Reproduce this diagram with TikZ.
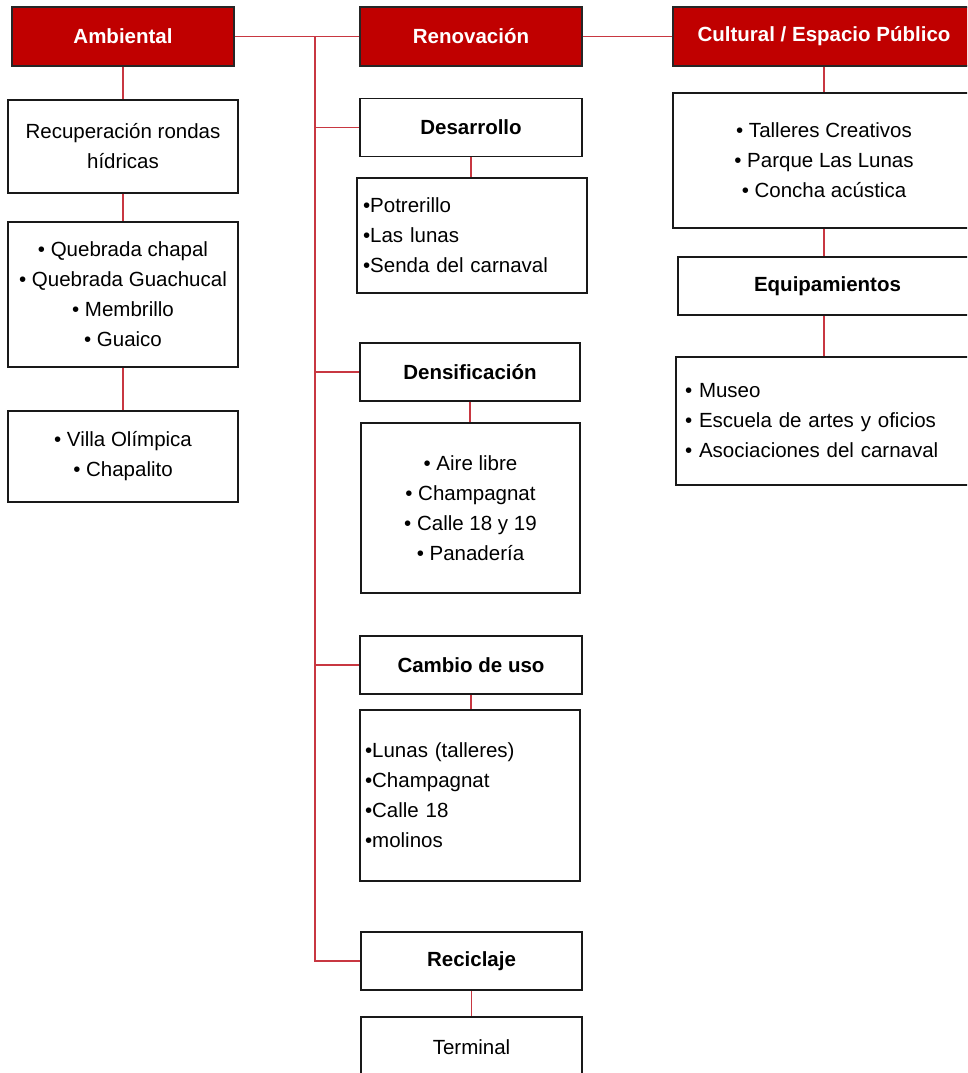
\documentclass[tikz,border=0pt]{standalone}
\usepackage{fontspec}
\setmainfont{Liberation Sans}
\definecolor{rojo}{RGB}{192,0,0}
\definecolor{linea}{RGB}{200,55,65}
\tikzset{
  cab/.style={draw=black!85, line width=1.5pt, fill=rojo, text=white,
    font=\bfseries\fontsize{20.5}{24}\selectfont, minimum height=59, inner sep=0},
  caja/.style={draw=black!90, line width=1.8pt, fill=white,
    font=\fontsize{20.5}{30}\selectfont, align=center, inner sep=0},
  titulo/.style={caja, font=\bfseries\fontsize{20.5}{24}\selectfont, minimum height=58},
  lista/.style={caja, align=left},
  enlace/.style={draw=linea, line width=1.5pt}
}
\begin{document}
\begin{tikzpicture}[x=1pt,y=-1pt]
  \clip (0,0) rectangle (967,1073);
  \fill[white] (0,0) rectangle (967,1073);

  % Cabeceras
  \node[cab, minimum width=222] (amb) at (123,36.5) {Ambiental};
  \node[cab, minimum width=222] (ren) at (471,36.5) {Renovación};
  \node[cab, minimum width=302] (cul) at (824,36.5) {Cultural / Espacio Público};

  % Ambiental
  \node[caja, minimum width=230, minimum height=93] (recup) at (123,146.5)
    {\fontsize{20.5}{28}\selectfont Recuperación rondas\\hídricas};
  \node[caja, minimum width=230, minimum height=145] (queb) at (123,294.5)
    {• Quebrada chapal\\• Quebrada Guachucal\\• Membrillo\\• Guaico};
  \node[caja, minimum width=230, minimum height=91] (villa) at (123,456.5)
    {• Villa Olímpica\\• Chapalito};

  % Renovación
  \node[titulo, minimum width=222] (desa) at (471,127.5) {Desarrollo};
  \node[lista, text width=218, inner xsep=6, minimum height=115] (potr) at (472,235.5)
    {•Potrerillo\\•Las lunas\\•Senda del carnaval};
  \node[titulo, minimum width=220] (dens) at (470,372) {Densificación};
  \node[caja, minimum width=219, minimum height=170] (aire) at (470.5,508)
    {• Aire libre\\• Champagnat\\• Calle 18 y 19\\• Panadería};
  \node[titulo, minimum width=222] (camb) at (471,665) {Cambio de uso};
  \node[lista, text width=210, inner xsep=5, minimum height=171] (lunas) at (470,795.5)
    {•Lunas (talleres)\\•Champagnat\\•Calle 18\\•molinos\\[6pt]};
  \node[titulo, minimum width=221] (reci) at (471.5,961) {Reciclaje};
  \node[caja, minimum width=221, minimum height=60] (term) at (471.5,1047) {Terminal};

  % Cultural
  \node[caja, minimum width=302, minimum height=135] (cult) at (824,160.5)
    {• Talleres Creativos\\• Parque Las Lunas\\• Concha acústica};
  \node[titulo, minimum width=299] (equi) at (827.5,286) {Equipamientos};
  \node[lista, text width=282, inner xsep=9, minimum height=128] (museo) at (826,421)
    {• Museo\\• Escuela de artes y oficios\\• Asociaciones del carnaval};

  % Conectores
  \coordinate (tronco) at (315,36.5);
  \draw[enlace] (amb) -- (ren);
  \draw[enlace] (ren) -- (cul);
  \draw[enlace] (tronco) |- (reci.west);
  \draw[enlace] (tronco |- desa.west) -- (desa.west);
  \draw[enlace] (tronco |- dens.west) -- (dens.west);
  \draw[enlace] (tronco |- camb.west) -- (camb.west);
  \draw[enlace] (amb) -- (recup);
  \draw[enlace] (recup) -- (queb);
  \draw[enlace] (queb) -- (villa);
  \draw[enlace] (desa.south) -- (desa.south |- potr.north);
  \draw[enlace] (dens.south) -- (dens.south |- aire.north);
  \draw[enlace] (camb.south) -- (camb.south |- lunas.north);
  \draw[enlace] (reci) -- (term);
  \draw[enlace] (cul.south) -- (cul.south |- cult.north);
  \draw[enlace] (cul.south |- cult.south) -- (cul.south |- equi.north);
  \draw[enlace] (cul.south |- equi.south) -- (cul.south |- museo.north);
\end{tikzpicture}
\end{document}
